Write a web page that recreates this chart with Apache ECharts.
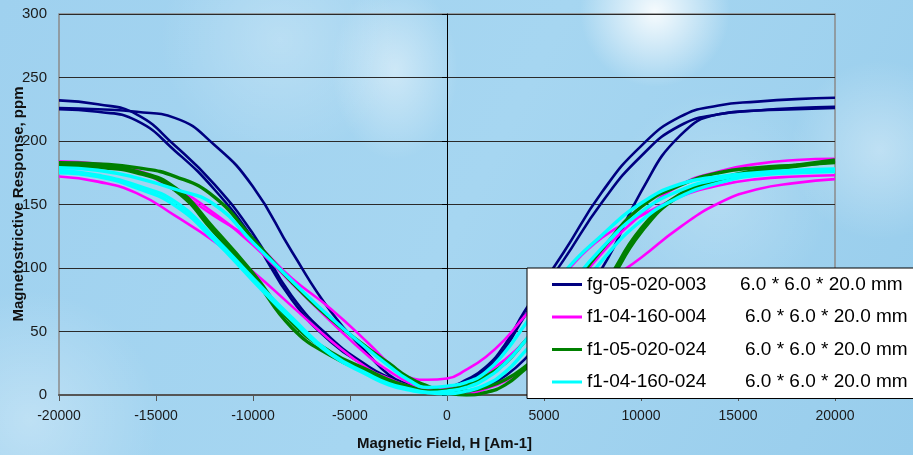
<!DOCTYPE html>
<html>
<head>
<meta charset="utf-8">
<script src="https://cdn.jsdelivr.net/npm/echarts@6/dist/echarts.min.js"></script>
<style>
  html, body { margin: 0; padding: 0; background: #a3d3ef; }
  #chart { width: 913px; height: 455px; }
</style>
</head>
<body>
<div id="chart"></div>
<script>
// Field values (A/m) shared by every sweep branch
const H = [-20000, -18000, -16000, -14000, -12000, -10000, -8000, -6000, -4000, -3000, -2000, -1000,
           0, 1000, 2000, 3000, 4000, 6000, 8000, 10000, 12000, 14000, 16000, 18000, 20000];

// Sample names and dimensions shown in the legend
const SAMPLE_NAMES = ['fg-05-020-003', 'f1-04-160-004', 'f1-05-020-024', 'f1-04-160-024'];
const SAMPLE_SIZE = '6.0 * 6.0 * 20.0 mm';

// Axis ticks
const X_TICKS = [-20000, -15000, -10000, -5000, 0, 5000, 10000, 15000, 20000];
const Y_TICKS = [0, 50, 100, 150, 200, 250, 300];

// Magnetostriction (ppm), one array per sweep branch
const fg05_branchA = [232, 229, 221, 196, 166, 127, 78, 45, 22, 14, 8, 5, 6, 12, 22, 40, 66, 112, 160, 196, 219, 228, 231, 233, 234];
const fg05_branchB = [225, 223, 216, 192, 162, 123, 75, 42, 21, 13, 7, 5, 6, 11, 20, 37, 62, 106, 152, 188, 212, 221, 224, 226, 227];
const fg05_branchC = [226, 225, 223, 218, 197, 164, 113, 66, 31, 16, 8, 3, 1, 1, 6, 15, 28, 62, 100, 160, 204, 221, 224, 225, 226];

const f104_160_004_branchA = [183, 181, 176, 161, 141, 121, 92, 68, 40, 25, 14, 12, 13, 20, 30, 44, 62, 95, 124, 141, 156, 165, 170, 172, 173];
const f104_160_004_branchB = [172, 168, 159, 141, 121, 97, 70, 43, 20, 13, 7, 3, 1, 1, 5, 11, 21, 52, 85, 108, 132, 151, 162, 167, 170];
const f104_160_004_branchC = [184, 182, 177, 163, 143, 118, 88, 58, 30, 19, 10, 5, 5, 9, 17, 28, 42, 75, 112, 142, 165, 176, 182, 185, 186];

const f105_branchA = [183, 182, 179, 172, 156, 123, 89, 60, 36, 25, 14, 7, 2, 0, 2, 8, 20, 45, 80, 128, 157, 169, 176, 180, 184];
const f105_branchB = [180, 179, 175, 161, 128, 93, 53, 31, 17, 11, 6, 3, 4, 8, 15, 25, 42, 77, 115, 148, 165, 175, 179, 181, 183];
const f105_branchC = [181, 180, 176, 163, 131, 96, 57, 34, 19, 12, 7, 3, 2, 3, 6, 12, 22, 48, 84, 131, 158, 170, 177, 181, 185];

const f104_160_024_branchA = [179, 177, 171, 162, 150, 120, 90, 61, 35, 23, 12, 6, 7, 10, 18, 34, 55, 96, 126, 151, 166, 172, 175, 177, 178];
const f104_160_024_branchB = [177, 173, 165, 152, 124, 92, 61, 33, 16, 9, 5, 2, 1, 3, 8, 18, 34, 67, 106, 137, 156, 167, 173, 175, 176];
const f104_160_024_branchC = [175, 172, 163, 149, 122, 90, 59, 32, 15, 8, 4, 2, 3, 6, 13, 25, 42, 80, 116, 144, 161, 170, 174, 176, 177];

const SAMPLES = [
  { name: SAMPLE_NAMES[0], color: '#000080', width: 2.6, branches: [fg05_branchA, fg05_branchB, fg05_branchC] },
  { name: SAMPLE_NAMES[1], color: '#ff00ff', width: 2.6, branches: [f104_160_004_branchA, f104_160_004_branchB, f104_160_004_branchC] },
  { name: SAMPLE_NAMES[2], color: '#008000', width: 3.4, branches: [f105_branchA, f105_branchB, f105_branchC] },
  { name: SAMPLE_NAMES[3], color: '#00ffff', width: 3.4, branches: [f104_160_024_branchA, f104_160_024_branchB, f104_160_024_branchC] }
];

const FONT = "'Liberation Sans', Arial, sans-serif";

const series = [];
SAMPLES.forEach(s => {
  s.branches.forEach(ys => {
    series.push({
      type: 'line',
      name: s.name,
      data: H.map((h, i) => [h, ys[i]]),
      smooth: 0.5,
      showSymbol: false,
      symbol: 'none',
      lineStyle: { color: s.color, width: s.width },
      itemStyle: { color: s.color },
      emphasis: { disabled: true },
      z: 2
    });
  });
});

const glow = (a) => ({
  type: 'radial', x: 0.5, y: 0.5, r: 0.5,
  colorStops: [
    { offset: 0, color: 'rgba(255,255,255,' + a + ')' },
    { offset: 1, color: 'rgba(255,255,255,0)' }
  ]
});

const chart = echarts.init(document.getElementById('chart'), null, { renderer: 'canvas' });
chart.setOption({
  animation: false,
  backgroundColor: {
    type: 'linear', x: 0, y: 0, x2: 1, y2: 1,
    colorStops: [
      { offset: 0, color: '#9fd1ef' },
      { offset: 0.5, color: '#a6d6f1' },
      { offset: 1, color: '#98cdec' }
    ]
  },
  graphic: [
    { type: 'circle', silent: true, z: -50, shape: { cx: 655, cy: 12, r: 75 }, style: { fill: glow(0.9) } },
    { type: 'circle', silent: true, z: -50, shape: { cx: 395, cy: 70, r: 90 }, scaleX: 0.7, originX: 395, originY: 70, style: { fill: glow(0.45) } },
    { type: 'circle', silent: true, z: -50, shape: { cx: 280, cy: 40, r: 120 }, style: { fill: glow(0.25) } },
    { type: 'circle', silent: true, z: -50, shape: { cx: 880, cy: 150, r: 90 }, style: { fill: glow(0.35) } },
    { type: 'circle', silent: true, z: -50, shape: { cx: 30, cy: 420, r: 130 }, style: { fill: glow(0.3) } },
    { type: 'circle', silent: true, z: -50, shape: { cx: 720, cy: 200, r: 110 }, style: { fill: glow(0.2) } },
    {
      type: 'text', left: 447 - 90, top: 436, silent: true,
      style: { text: 'Magnetic Field, H [Am-1]', font: 'bold 15px ' + FONT, fill: '#111', width: 180, align: 'center' }
    },
    {
      type: 'text', silent: true,
      x: 19, y: 204, rotation: Math.PI / 2,
      style: { text: 'Magnetostrictive Response, ppm', font: 'bold 15px ' + FONT, fill: '#111', align: 'center', verticalAlign: 'middle' }
    }
  ],
  grid: {
    left: 59, right: 78, top: 14, bottom: 60,
    show: true, borderColor: '#8a8a8a', borderWidth: 1.5, backgroundColor: 'transparent'
  },
  legend: {
    data: SAMPLE_NAMES,
    orient: 'vertical',
    left: 527, top: 268,
    padding: [7, 20, 7, 25],
    itemGap: 13.5,
    itemWidth: 30, itemHeight: 3,
    icon: 'rect',
    backgroundColor: '#ffffff',
    borderColor: '#000000',
    borderWidth: 1,
    selectedMode: false,
    formatter: name => '{' + (name === SAMPLE_NAMES[0] ? 'a' : 'b') + '|' + name + '}{s|' + SAMPLE_SIZE + '}',
    textStyle: {
      fontFamily: FONT, fontSize: 19, color: '#000',
      rich: {
        a: { width: 153, fontFamily: FONT, fontSize: 19, lineHeight: 20, color: '#000' },
        b: { width: 158, fontFamily: FONT, fontSize: 19, lineHeight: 20, color: '#000' },
        s: { fontFamily: FONT, fontSize: 19, lineHeight: 20, color: '#000' }
      }
    },
    z: 10
  },
  xAxis: {
    type: 'value', min: -20000, max: 20000, interval: 5000,
    axisLine: { onZero: false, lineStyle: { color: '#555', width: 2 } },
    axisTick: { show: true, length: 6, lineStyle: { color: '#555', width: 1 } },
    axisLabel: {
      margin: 14, fontFamily: FONT, fontSize: 14, color: '#1a1a1a',
      formatter: v => X_TICKS.includes(v) ? String(v) : ''
    },
    splitLine: { show: false }
  },
  yAxis: {
    type: 'value', min: 0, max: 300, interval: 50,
    axisLine: { show: true, onZero: true, lineStyle: { color: '#000', width: 1 } },
    axisTick: { show: true, length: 5, lineStyle: { color: '#000' } },
    axisLabel: {
      margin: 12, fontFamily: FONT, fontSize: 15, color: '#1a1a1a',
      formatter: v => Y_TICKS.includes(v) ? String(v) : ''
    },
    splitLine: { show: true, lineStyle: { color: '#2a2a2a', width: 1 } }
  },
  series: series
});
</script>
</body>
</html>
